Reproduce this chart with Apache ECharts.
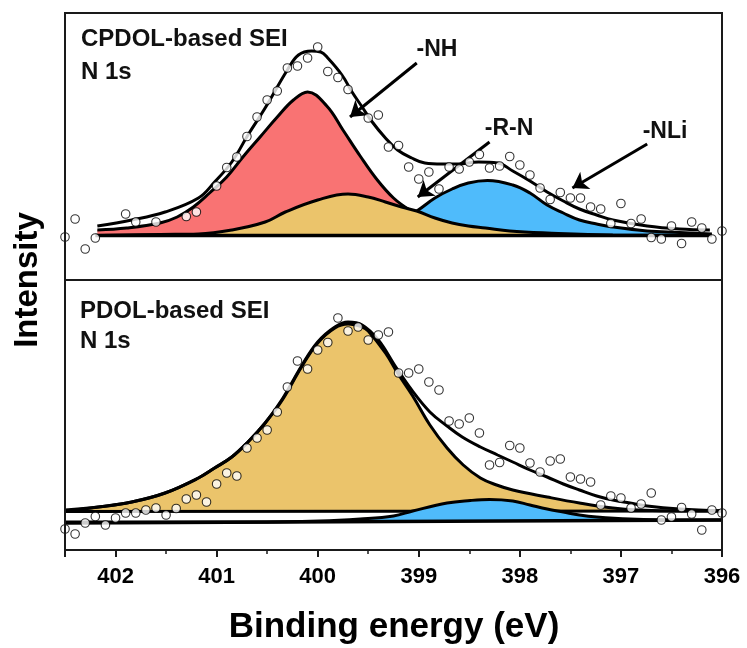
<!DOCTYPE html>
<html>
<head>
<meta charset="utf-8">
<script src="https://cdn.jsdelivr.net/npm/echarts@6/dist/echarts.min.js"></script>
<style>html,body{margin:0;padding:0;background:#fff;}#c{width:747px;height:648px;}</style>
</head>
<body>
<div id="c"></div>
<script>
// ---------- data (binding energy eV, intensity a.u.) ----------
const xTickValues = [402, 401, 400, 399, 398, 397, 396];

// Top panel: CPDOL-based SEI
const topPoints = [[402.5,43],[402.4,61],[402.3,31],[402.2,42],[401.9,66],[401.8,58],[401.6,58],[401.3,63.5],[401.2,68],
 [401.0,94],[400.9,112.5],[400.8,123],[400.7,143.5],[400.6,163],[400.5,180],[400.4,189],[400.3,212],[400.2,214],[400.1,222],
 [400.0,233],[399.9,208.5],[399.8,202.5],[399.7,190.5],[399.5,162],[399.4,165],[399.3,133],[399.2,134.5],[399.1,113],[399.0,101],
 [398.9,108],[398.8,91],[398.7,113],[398.6,111],[398.5,118],[398.4,125.5],[398.3,112],[398.2,114],[398.1,123.5],[398.0,115],
 [397.9,105],[397.8,92],[397.7,80.5],[397.6,87.5],[397.5,82],[397.4,82],[397.3,73],[397.2,71],[397.1,56.5],[397.0,76.5],
 [396.9,56.5],[396.8,61],[396.7,42.5],[396.6,41],[396.5,54],[396.4,36.5],[396.3,58],[396.2,52],[396.1,41],[396.0,49]];
const topBackground = [[402.2,44.5],[396.1,44.5]];
const topNH = [[402.18,50],[401.89,52],[401.56,57],[401.39,63],[401.23,73],[401.07,87],[400.90,103],[400.74,123],[400.57,143],
 [400.40,163],[400.24,180],[400.10,188],[399.91,174],[399.75,150],[399.58,124],[399.41,100],[399.25,82],[399.09,70],[398.89,59],
 [398.59,52],[398.20,48],[397.60,46],[397.01,45],[396.10,44.5]];
const topRN = [[402.18,44.5],[401.56,45.5],[401.18,46],[400.85,50],[400.52,58],[400.32,68],[400.0,80],[399.70,86],[399.50,83],
 [399.33,78],[399.17,73],[399.02,69],[398.84,62],[398.67,57],[398.51,54],[398.34,52],[398.10,49],[397.73,47],[397.08,45],[396.10,44.5]];
const topNLi = [[402.18,44.5],[401.16,45],[400.18,47],[399.68,51],[399.38,56],[399.19,60],[399.02,69],[398.84,82],[398.67,91],
 [398.51,97],[398.32,99.5],[398.07,95],[397.90,87],[397.73,75],[397.57,67],[397.41,60],[397.24,56],[397.08,53],[396.74,49],
 [396.42,47.5],[396.10,46]];
const topEnvelope = [[402.18,54],[401.84,60],[401.51,68],[401.18,82],[401.02,98],[400.85,118],[400.69,145],[400.52,172],
 [400.30,210],[400.19,225],[400.06,229],[399.97,228],[399.90,222],[399.76,205],[399.66,188],[399.56,173],[399.46,158],
 [399.33,142],[399.21,130],[399.07,122],[398.94,117],[398.77,116],[398.61,116],[398.41,118],[398.22,117],[398.07,109],
 [397.90,99],[397.73,88],[397.57,79],[397.41,71],[397.24,65],[397.08,60],[396.74,54],[396.42,51],[396.12,50]];

// Bottom panel: PDOL-based SEI
const botPoints = [[402.5,21],[402.4,16],[402.3,27],[402.2,33.5],[402.1,25],[402.0,32],[401.9,37],[401.8,37],[401.7,40],
 [401.6,42],[401.5,35],[401.4,41.5],[401.3,51],[401.2,55],[401.1,48],[401.0,66],[400.9,77],[400.8,74],[400.7,102],[400.6,112],
 [400.5,120],[400.4,138],[400.3,163],[400.2,189],[400.1,181],[400.0,200],[399.9,207.5],[399.8,232],[399.7,219],[399.6,223],
 [399.5,210],[399.4,215],[399.3,218],[399.2,177],[399.1,177],[399.0,181],[398.9,168],[398.8,160],[398.7,129],[398.6,126],
 [398.5,132],[398.4,117],[398.3,85],[398.2,87.5],[398.1,104.5],[398.0,102],[397.9,87],[397.8,78],[397.7,89],[397.6,91],
 [397.5,73],[397.4,71],[397.3,68],[397.2,45],[397.1,54],[397.0,52],[396.9,42],[396.8,46],[396.7,57],[396.6,30],[396.5,33],
 [396.4,42.5],[396.3,36],[396.2,20],[396.1,40],[396.0,37]];
const botBackgroundHigh = [[402.5,38.5],[396.0,39]];
const botBackgroundLow = [[402.5,27],[396.0,30]];
const botRN = [[402.50,39],[402.17,43],[401.84,48],[401.51,57],[401.18,72],[401.02,82],[400.85,93],[400.69,108],[400.52,127],
 [400.35,150],[400.16,183],[400.00,207],[399.83,222],[399.70,226],[399.56,223],[399.50,219],[399.33,197],[399.21,177],
 [399.06,154],[398.89,125],[398.72,102],[398.56,85],[398.39,72],[398.23,65],[398.07,60],[397.73,53],[397.41,47],[397.08,42],
 [396.83,40],[396.42,39],[396.00,39]];
const botNLi = [[402.50,28],[400.67,28],[399.98,29],[399.58,31],[399.25,34],[399.06,39],[398.72,47],[398.49,49.5],[398.30,50.5],
 [398.07,49],[397.90,45],[397.73,41],[397.57,38],[397.41,35],[397.24,33],[396.91,31],[396.42,30],[396.00,30]];
const botEnvelope = [[402.50,40],[402.17,43],[401.84,48],[401.51,57],[401.18,72],[401.02,82],[400.85,93],[400.69,108],
 [400.52,127],[400.35,151],[400.16,184],[400.00,208],[399.83,223],[399.70,228],[399.56,225],[399.40,210],[399.24,185],
 [399.07,160],[398.89,138],[398.72,124],[398.57,113],[398.39,103],[398.22,95],[398.07,88],[397.90,80],[397.73,73],[397.57,66],
 [397.41,60],[397.24,54],[397.08,50],[396.91,47],[396.74,44],[396.42,41],[396.00,39]];

// annotation arrows (data coords of top panel): [start, end]
const arrowNH = [[399.02,217],[399.68,163]];
const arrowRN = [[398.30,138],[399.01,83]];
const arrowNLi = [[396.74,136],[397.48,92]];

// ---------- styles ----------
const FONT = '"Liberation Sans", Arial, sans-serif';
const RED = '#F97373', YEL = '#EBC46B', BLU = '#4FBBFB';
const topBase = 44.5, botBaseHigh = 38.5, botBaseLow = 28.5;

function area(name, data, color, origin, xi, z) {
  return {name, type: 'line', xAxisIndex: xi, yAxisIndex: xi, data, smooth: 0.4, showSymbol: false, symbol: 'none',
    lineStyle: {color: '#000', width: 3}, areaStyle: {color, opacity: 1, origin}, z, silent: true};
}
function line(name, data, xi, z, w) {
  return {name, type: 'line', xAxisIndex: xi, yAxisIndex: xi, data, smooth: 0.4, symbol: 'none',
    lineStyle: {color: '#000', width: w || 3}, z, silent: true};
}
function dots(name, data, xi) {
  return {name, type: 'scatter', xAxisIndex: xi, yAxisIndex: xi, data, symbol: 'circle', symbolSize: 8.5,
    itemStyle: {color: '#fff', borderColor: '#000', borderWidth: 1.1}, z: 20, silent: true};
}
function arrow(a) {
  return [{coord: a[0], symbol: 'none'}, {coord: a[1], symbol: 'arrow'}];
}

const chart = echarts.init(document.getElementById('c'), null, {renderer: 'canvas'});
const xBase = {type: 'value', min: 396, max: 402.5, inverse: true, splitLine: {show: false}};
chart.setOption({
  animation: false,
  backgroundColor: '#fff',
  grid: [
    {left: 65, right: 25, top: 13, height: 267, show: true, borderColor: '#1a1a1a', borderWidth: 2, z: 30},
    {left: 65, right: 25, top: 280, height: 270, show: true, borderColor: '#1a1a1a', borderWidth: 2, z: 30}
  ],
  xAxis: [
    Object.assign({}, xBase, {gridIndex: 0, axisLine: {show: false}, axisTick: {show: false}, axisLabel: {show: false}}),
    Object.assign({}, xBase, {gridIndex: 1, interval: 1,
      axisLine: {show: false},
      axisTick: {show: true, inside: false, length: 7, lineStyle: {color: '#1a1a1a', width: 2}},
      minorTick: {show: true, splitNumber: 2, length: 4, lineStyle: {color: '#1a1a1a', width: 1.5}},
      minorSplitLine: {show: false},
      axisLabel: {show: true, margin: 16, fontFamily: FONT, fontWeight: 'bold', fontSize: 22, color: '#000',
        formatter: v => xTickValues.indexOf(v) >= 0 ? String(v) : ''}
    })
  ],
  yAxis: [
    {type: 'value', gridIndex: 0, min: 0, max: 267, show: false},
    {type: 'value', gridIndex: 1, min: 0, max: 270, show: false}
  ],
  series: [
    area('-NH', topNH, RED, topBase, 0, 2),
    area('-NLi', topNLi, BLU, topBase, 0, 3),
    area('-R-N', topRN, YEL, topBase, 0, 4),
    line('background', topBackground, 0, 5, 3.5),
    Object.assign(line('envelope', topEnvelope, 0, 6), {
      markLine: {silent: true, symbolSize: 15, label: {show: false},
        lineStyle: {color: '#000', width: 3, type: 'solid'},
        data: [arrow(arrowNH), arrow(arrowRN), arrow(arrowNLi)]}
    }),
    dots('raw', topPoints, 0),

    area('-R-N (PDOL)', botRN, YEL, botBaseHigh, 1, 2),
    line('background high', botBackgroundHigh, 1, 3, 3),
    area('-NLi (PDOL)', botNLi, BLU, botBaseLow, 1, 4),
    line('background low', botBackgroundLow, 1, 5, 3.5),
    line('envelope (PDOL)', botEnvelope, 1, 6),
    dots('raw (PDOL)', botPoints, 1)
  ],
  graphic: [
    {type: 'text', x: 81, y: 39, style: {text: 'CPDOL-based SEI', font: 'bold 24px ' + FONT, fill: '#111', textAlign: 'left', textVerticalAlign: 'middle', verticalAlign: 'middle'}},
    {type: 'text', x: 81, y: 72, style: {text: 'N 1s', font: 'bold 24px ' + FONT, fill: '#111', textAlign: 'left', textVerticalAlign: 'middle', verticalAlign: 'middle'}},
    {type: 'text', x: 80, y: 311, style: {text: 'PDOL-based SEI', font: 'bold 24px ' + FONT, fill: '#111', textAlign: 'left', textVerticalAlign: 'middle', verticalAlign: 'middle'}},
    {type: 'text', x: 80, y: 341, style: {text: 'N 1s', font: 'bold 24px ' + FONT, fill: '#111', textAlign: 'left', textVerticalAlign: 'middle', verticalAlign: 'middle'}},
    {type: 'text', x: 437, y: 50, style: {text: '-NH', font: 'bold 23px ' + FONT, fill: '#111', textAlign: 'center', textVerticalAlign: 'middle', verticalAlign: 'middle'}},
    {type: 'text', x: 509, y: 129, style: {text: '-R-N', font: 'bold 23px ' + FONT, fill: '#111', textAlign: 'center', textVerticalAlign: 'middle', verticalAlign: 'middle'}},
    {type: 'text', x: 665, y: 132, style: {text: '-NLi', font: 'bold 23px ' + FONT, fill: '#111', textAlign: 'center', textVerticalAlign: 'middle', verticalAlign: 'middle'}},
    {type: 'text', x: 28, y: 280, rotation: Math.PI / 2, style: {text: 'Intensity', font: 'bold 33px ' + FONT, fill: '#000', textAlign: 'center', textVerticalAlign: 'middle', verticalAlign: 'middle'}},
    {type: 'text', x: 394, y: 627, style: {text: 'Binding energy (eV)', font: 'bold 35px ' + FONT, fill: '#000', textAlign: 'center', textVerticalAlign: 'middle', verticalAlign: 'middle'}}
  ]
});
</script>
</body>
</html>
